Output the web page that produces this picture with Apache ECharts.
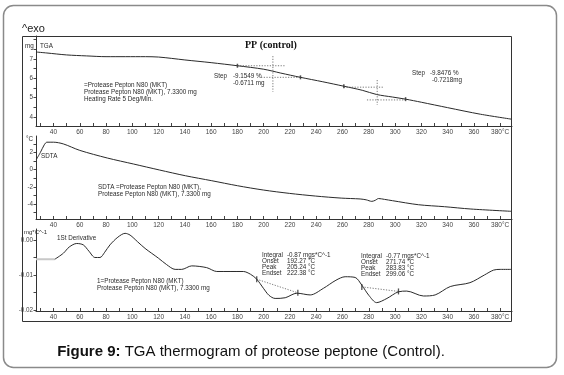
<!DOCTYPE html>
<html>
<head>
<meta charset="utf-8">
<script src="https://cdn.jsdelivr.net/npm/echarts@6/dist/echarts.min.js"></script>
<style>
  html, body { margin: 0; padding: 0; background: #fff; }
  #chart { width: 564px; height: 375px; }
</style>
</head>
<body>
<div id="chart"></div>
<script>
// 温度轴 (°C)
var xTicks = [30, 40, 50, 60, 70, 80, 90, 100, 110, 120, 130, 140, 150, 160, 170, 180, 190, 200, 210, 220, 230, 240, 250, 260, 270, 280, 290, 300, 310, 320, 330, 340, 350, 360, 370, 380];
var xLabels = [40, 60, 80, 100, 120, 140, 160, 180, 200, 220, 240, 260, 280, 300, 320, 340, 360, 380];

// TGA (mg)
var tgaTemp = [27, 35, 50, 65, 80, 95, 110, 120, 130, 140, 160, 180, 200, 213, 228, 245, 261, 275, 286, 298, 308, 320, 340, 365, 389];
var tgaMass = [7.36, 7.31, 7.21, 7.16, 7.12, 7.12, 7.12, 7.10, 7.03, 6.95, 6.81, 6.65, 6.47, 6.27, 6.05, 5.82, 5.59, 5.38, 5.16, 5.03, 4.92, 4.76, 4.48, 4.14, 3.88];
var tgaMarkTemp = [180, 228, 261, 308];
var tgaMarkMass = [6.65, 6.05, 5.59, 4.92];
var tgaTicks = [3.5, 4, 4.5, 5, 5.5, 6, 6.5, 7, 7.5, 8];
var tgaLabels = [4, 5, 6, 7];
// step 辅助线 (起点, 终点)
var stepLines = [
  [[180, 6.65], [216, 6.65]],
  [[207, 7.15], [207, 5.30]],
  [[198, 6.05], [228, 6.05]],
  [[261, 5.54], [291, 5.54]],
  [[286.4, 5.91], [286.4, 4.62]],
  [[278.6, 4.88], [308, 4.88]]
];

// SDTA (°C)
var sdtaTemp = [27, 30, 33, 35, 40, 47.5, 60, 81, 101, 120.6, 140.4, 160.5, 180, 199.7, 219.5, 239.3, 259, 273.4, 278, 282.3, 285, 287.4, 292, 298, 317.8, 337.6, 357.7, 389];
var sdtaVal = [1.2, 2.0, 2.9, 3.2, 3.2, 3.0, 2.25, 1.36, 0.66, -0.03, -0.7, -1.28, -1.86, -2.36, -2.75, -3.06, -3.3, -3.4, -3.5, -3.68, -3.55, -3.35, -3.45, -3.6, -4.07, -4.3, -4.57, -4.84];
var sdtaTicks = [-5, -4, -3, -2, -1, 0, 1, 2, 3];
var sdtaLabels = [-4, -2, 0, 2];

// 1st Derivative (mg*C^-1)
var derTemp = [41, 47.5, 52, 57.7, 62.7, 67, 71.6, 75.4, 79, 83, 89, 94.5, 98.3, 104, 109.7, 119.9, 126, 132.6, 137.6, 145.2, 156.6, 164.3, 184.5, 190, 194.7, 199.8, 204, 208.7, 216.4, 225.3, 235.4, 245.5, 255, 262, 269.6, 274.7, 280, 286, 293.8, 302.6, 308.9, 321.6, 330.5, 342, 357, 368, 375, 380, 389];
var derVal = [-0.0055, -0.0038, -0.0020, -0.0010, -0.0014, -0.0032, -0.0050, -0.0050, -0.0035, -0.0014, 0.0008, 0.0019, 0.0014, -0.0005, -0.0024, -0.0052, -0.0070, -0.0084, -0.0084, -0.0074, -0.0079, -0.0090, -0.0090, -0.0098, -0.0112, -0.0138, -0.0158, -0.0167, -0.0165, -0.0152, -0.0157, -0.0138, -0.0115, -0.0105, -0.0107, -0.0129, -0.0158, -0.0179, -0.0167, -0.0148, -0.0146, -0.0160, -0.0157, -0.0133, -0.0122, -0.0100, -0.0086, -0.0084, -0.0084];
var derLead = [[26.7, -0.0055], [41, -0.0055]];
var derBase = [
  [[194.7, -0.0112], [226, -0.0151]],
  [[274.7, -0.0134], [302.6, -0.0147]]
];
var derMarkTemp = [194.7, 226, 274.7, 302.6];
var derMarkVal = [-0.0112, -0.0151, -0.0134, -0.0147];
var derTicks = [-0.02, -0.015, -0.01, -0.005, 0];
var derLabels = [-0.02, -0.01, 0];

var fam = '"Liberation Sans", Arial, sans-serif';
var ink = '#2a2a2a';

function zip(a, b) {
  return a.map(function (v, i) { return [v, b[i]]; });
}

function xAxis(idx) {
  return {
    type: 'value', gridIndex: idx, min: 26.7, max: 389,
    axisLine: { show: true, onZero: false, lineStyle: { color: '#333', width: 1 } },
    axisTick: { show: true, inside: true, length: 3, customValues: xTicks, lineStyle: { color: '#444' } },
    axisLabel: {
      customValues: xLabels, margin: 3, fontSize: 6.5, color: '#444', fontFamily: fam,
      formatter: function (v) { return v === 380 ? '380°C' : String(v); }
    },
    splitLine: { show: false }
  };
}

function yAxis(idx, min, max, ticks, labels, fmt) {
  return {
    type: 'value', gridIndex: idx, min: min, max: max,
    axisLine: { show: true, lineStyle: { color: '#333', width: 1 } },
    axisTick: { show: true, length: 2.5, customValues: ticks, lineStyle: { color: '#444' } },
    axisLabel: { customValues: labels, margin: 3, fontSize: 6.3, color: '#444', fontFamily: fam, formatter: fmt },
    splitLine: { show: false }
  };
}

function txt(x, y, s, extra) {
  var st = { text: s, fill: ink, font: '6.3px ' + fam, verticalAlign: 'middle', align: 'left' };
  for (var k in extra) st[k] = extra[k];
  return { type: 'text', x: x, y: y, z: 100, silent: true, style: st };
}

function dotted(seg, xi) {
  return {
    type: 'line', xAxisIndex: xi, yAxisIndex: xi, data: seg, showSymbol: false, silent: true,
    lineStyle: { color: '#555', width: 0.8, type: [1.2, 1.5] }
  };
}

var series = [
  {
    type: 'line', xAxisIndex: 0, yAxisIndex: 0, data: zip(tgaTemp, tgaMass),
    smooth: 0.3, showSymbol: false, lineStyle: { color: ink, width: 1 }
  },
  {
    type: 'scatter', xAxisIndex: 0, yAxisIndex: 0, data: zip(tgaMarkTemp, tgaMarkMass),
    symbol: 'rect', symbolSize: [1.5, 4], itemStyle: { color: ink }
  },
  {
    type: 'line', xAxisIndex: 1, yAxisIndex: 1, data: zip(sdtaTemp, sdtaVal),
    smooth: 0.3, showSymbol: false, lineStyle: { color: ink, width: 1 }
  },
  {
    type: 'line', xAxisIndex: 2, yAxisIndex: 2, data: derLead,
    showSymbol: false, lineStyle: { color: '#c8c8c8', width: 2 }
  },
  {
    type: 'line', xAxisIndex: 2, yAxisIndex: 2, data: zip(derTemp, derVal),
    smooth: 0.3, showSymbol: false, lineStyle: { color: ink, width: 1 }
  },
  {
    type: 'scatter', xAxisIndex: 2, yAxisIndex: 2, data: zip(derMarkTemp, derMarkVal),
    symbol: 'rect', symbolSize: [1.3, 6], itemStyle: { color: ink }
  }
];
stepLines.forEach(function (s) { series.push(dotted(s, 0)); });
derBase.forEach(function (s) { series.push(dotted(s, 2)); });

var graphic = [
  { type: 'rect', z: 90, silent: true, shape: { x: 3.5, y: 5.5, width: 553, height: 362, r: 10 },
    style: { fill: 'none', stroke: '#8a8a8a', lineWidth: 1.5 } },
  { type: 'rect', z: 90, silent: true, shape: { x: 22.5, y: 36.5, width: 489, height: 285 },
    style: { fill: 'none', stroke: '#333', lineWidth: 1 } },
  txt(22, 29, '^exo', { font: '11px ' + fam, fill: '#222' }),
  txt(25, 46, 'mg', {}),
  txt(40, 46, 'TGA', {}),
  txt(245, 45, 'PP (control)', { font: 'bold 10px "Liberation Serif", "Times New Roman", serif', fill: '#111' }),
  txt(84, 85, '=Protease Pepton N80 (MKT)', {}),
  txt(84, 92, 'Protease Pepton N80 (MKT), 7.3300 mg', {}),
  txt(84, 99, 'Heating Rate 5 Deg/Min.', {}),
  txt(214, 76, 'Step', {}),
  txt(233, 76, '-9.1549 %', {}),
  txt(233, 83, '-0.6711 mg', {}),
  txt(412, 73, 'Step', {}),
  txt(430, 73, '-9.8476 %', {}),
  txt(432, 80, '-0.7218mg', {}),
  txt(26, 139, '°C', {}),
  txt(41, 156, 'SDTA', {}),
  txt(98, 187, 'SDTA =Protease Pepton N80 (MKT),', {}),
  txt(98, 194, 'Protease Pepton N80 (MKT), 7.3300 mg', {}),
  txt(24, 232, 'mg*C^-1', { font: '6px ' + fam }),
  txt(57, 238, '1St Derivative', {}),
  txt(97, 281, '1=Protease Pepton N80 (MKT)', {}),
  txt(97, 288, 'Protease Pepton N80 (MKT), 7.3300 mg', {}),
  txt(262, 255, 'Integral', {}),
  txt(262, 261, 'Onset', {}),
  txt(262, 267, 'Peak', {}),
  txt(262, 273, 'Endset', {}),
  txt(287, 255, '-0.87 mgs*C^-1', {}),
  txt(287, 261, '192.27 °C', {}),
  txt(287, 267, '205.24 °C', {}),
  txt(287, 273, '222.38 °C', {}),
  txt(361, 256, 'Integral', {}),
  txt(361, 262, 'Onset', {}),
  txt(361, 268, 'Peak', {}),
  txt(361, 274, 'Endset', {}),
  txt(386, 256, '-0.77 mgs*C^-1', {}),
  txt(386, 262, '271.74 °C', {}),
  txt(386, 268, '283.83 °C', {}),
  txt(386, 274, '299.06 °C', {}),
  {
    type: 'text', x: 251, y: 352, z: 100, silent: true,
    style: {
      text: '{b|Figure 9:} TGA thermogram of proteose peptone (Control).',
      fontSize: 15, fontFamily: fam, fill: '#111', align: 'center', verticalAlign: 'middle',
      rich: { b: { fontSize: 15, fontFamily: fam, fontWeight: 'bold', fill: '#111' } }
    }
  }
];

var option = {
  animation: false,
  backgroundColor: '#fff',
  grid: [
    { left: 36, right: 52, top: 36, height: 90, outerBoundsMode: 'none' },
    { left: 36, right: 52, top: 136, height: 83, outerBoundsMode: 'none' },
    { left: 36, right: 52, top: 229, height: 82, outerBoundsMode: 'none' }
  ],
  xAxis: [xAxis(0), xAxis(1), xAxis(2)],
  yAxis: [
    yAxis(0, 3.53, 8.19, tgaTicks, tgaLabels, function (v) { return String(v); }),
    yAxis(1, -5.73, 3.92, sdtaTicks, sdtaLabels, function (v) { return String(v); }),
    yAxis(2, -0.02029, 0.00314, derTicks, derLabels, function (v) { return v.toFixed(2); })
  ],
  series: series,
  graphic: graphic
};

var chart = echarts.init(document.getElementById('chart'), null, { renderer: 'canvas' });
chart.setOption(option);
</script>
</body>
</html>
